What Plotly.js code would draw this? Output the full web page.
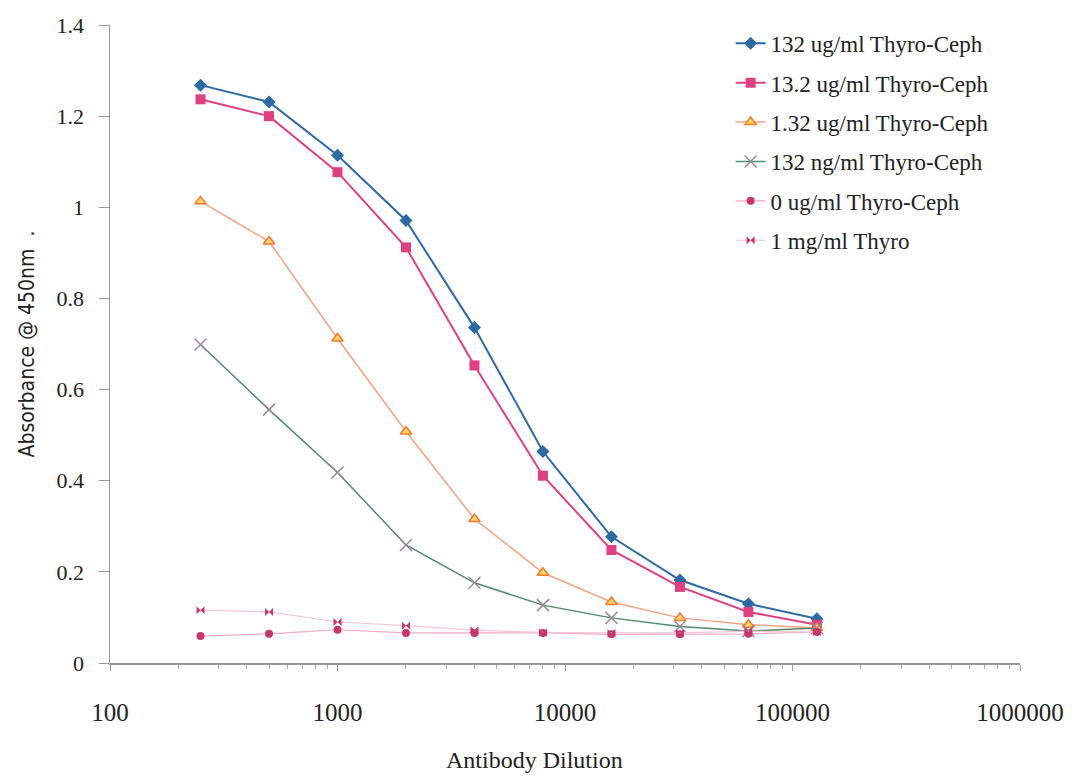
<!DOCTYPE html>
<html>
<head>
<meta charset="utf-8">
<script src="https://cdn.plot.ly/plotly-3.0.1.min.js"></script>
<style>html,body{margin:0;padding:0;background:#fff;}#chart{width:1072px;height:781px;}</style>
</head>
<body>
<div id="chart"></div>
<script>
// Antibody dilutions (x)
var dilutions = [250, 500, 1000, 2000, 4000, 8000, 16000, 32000, 64000, 128000];

// Absorbance @ 450nm series
var s132ug  = [1.268, 1.231, 1.114, 0.971, 0.736, 0.464, 0.277, 0.182, 0.130, 0.097];
var s13ug   = [1.237, 1.200, 1.077, 0.912, 0.653, 0.411, 0.248, 0.167, 0.112, 0.084];
var s1ug    = [1.013, 0.925, 0.712, 0.508, 0.316, 0.198, 0.134, 0.099, 0.084, 0.077];
var s132ng  = [0.699, 0.556, 0.418, 0.259, 0.176, 0.127, 0.099, 0.080, 0.070, 0.077];
var s0ug    = [0.059, 0.064, 0.073, 0.066, 0.066, 0.066, 0.063, 0.063, 0.064, 0.068];
var s1mg    = [0.116, 0.112, 0.090, 0.082, 0.072, 0.067, 0.066, 0.066, 0.070, 0.068];

var seriesNames = ["132 ug/ml Thyro-Ceph", "13.2 ug/ml Thyro-Ceph", "1.32 ug/ml Thyro-Ceph",
                   "132 ng/ml Thyro-Ceph", "0 ug/ml Thyro-Ceph", "1 mg/ml Thyro"];

var xTickVals = [100, 1000, 10000, 100000, 1000000];
var xTickText = ["100", "1000", "10000", "100000", "1000000"];
var yTickVals = [0, 0.2, 0.4, 0.6, 0.8, 1, 1.2, 1.4];
var yTickText = ["0", "0.2", "0.4", "0.6", "0.8", "1", "1.2", "1.4"];
var xTitle = "Antibody Dilution";
var yTitle = "Absorbance @ 450nm  .";

// minor tick positions on the log axis (2..9 within each decade)
var minorVals = [];
[100, 1000, 10000, 100000].forEach(function (d) {
  for (var k = 2; k <= 9; k++) minorVals.push(d * k);
});

var serif = "Times New Roman";

var traces = [
  {y: s132ug, name: seriesNames[0], line: {color: "#2c6aa6", width: 2},
   marker: {symbol: "diamond", size: 10, color: "#2c6aa6"}},
  {y: s13ug, name: seriesNames[1], line: {color: "#e0407f", width: 2},
   marker: {symbol: "square", size: 10, color: "#e0407f"}},
  {y: s1ug, name: seriesNames[2], line: {color: "#f2a286", width: 1.5},
   marker: {symbol: "triangle-up", size: 10, color: "#ffd660", line: {color: "#f07a30", width: 1.5}}},
  {y: s132ng, name: seriesNames[3], line: {color: "#4f8a6e", width: 1.5},
   marker: {symbol: "x-thin", size: 12, color: "#9c8a9c", line: {color: "#9c8a9c", width: 1.5}}},
  {y: s0ug, name: seriesNames[4], line: {color: "#f1a9bf", width: 1.2},
   marker: {symbol: "circle", size: 8, color: "#c8356a"}},
  {y: s1mg, name: seriesNames[5], line: {color: "#f3c6d3", width: 1.2},
   marker: {symbol: "bowtie", size: 8, color: "#c8356a"}}
];
traces.forEach(function (t, i) {
  t.x = dilutions;
  t.type = "scatter";
  t.mode = "lines+markers";
  t.legendgroup = "g" + i;
});

var layout = {
  width: 1072, height: 781,
  paper_bgcolor: "#ffffff", plot_bgcolor: "#ffffff",
  margin: {l: 110, r: 52, t: 25, b: 118},
  font: {family: serif, color: "#222"},
  showlegend: true,
  legend: {
    x: 0.682, y: 1.005, xanchor: "left", yanchor: "top",
    font: {family: serif, size: 23, color: "#222"},
    bgcolor: "rgba(255,255,255,0)", borderwidth: 0,
    tracegroupgap: 6.5
  },
  xaxis: {
    type: "log", range: [2, 6],
    tickvals: xTickVals, ticktext: xTickText,
    ticks: "outside", ticklen: 6, tickcolor: "#999",
    ticklabelstandoff: 20,
    minor: {tickvals: minorVals, ticks: "outside", ticklen: 4, tickcolor: "#aaa", showgrid: false},
    showline: true, linecolor: "#999", linewidth: 1.5,
    showgrid: false, zeroline: false,
    tickfont: {family: serif, size: 25, color: "#222"}
  },
  yaxis: {
    range: [0, 1.4],
    tickvals: yTickVals, ticktext: yTickText,
    ticks: "outside", ticklen: 10, tickcolor: "#999",
    ticklabelstandoff: 10,
    showline: true, linecolor: "#999", linewidth: 1.5,
    showgrid: false, zeroline: false,
    tickfont: {family: serif, size: 22, color: "#222"},
    title: {text: yTitle, font: {family: "Liberation Sans Narrow, DejaVu Sans Condensed, sans-serif", size: 21, color: "#222"}, standoff: 16}
  },
  annotations: [{
    text: xTitle, xref: "paper", yref: "paper", x: 0.467, y: -0.128,
    xanchor: "center", yanchor: "top", showarrow: false,
    font: {family: serif, size: 24, color: "#222"}
  }]
};

Plotly.newPlot("chart", traces, layout, {displayModeBar: false, staticPlot: true});
</script>
</body>
</html>
